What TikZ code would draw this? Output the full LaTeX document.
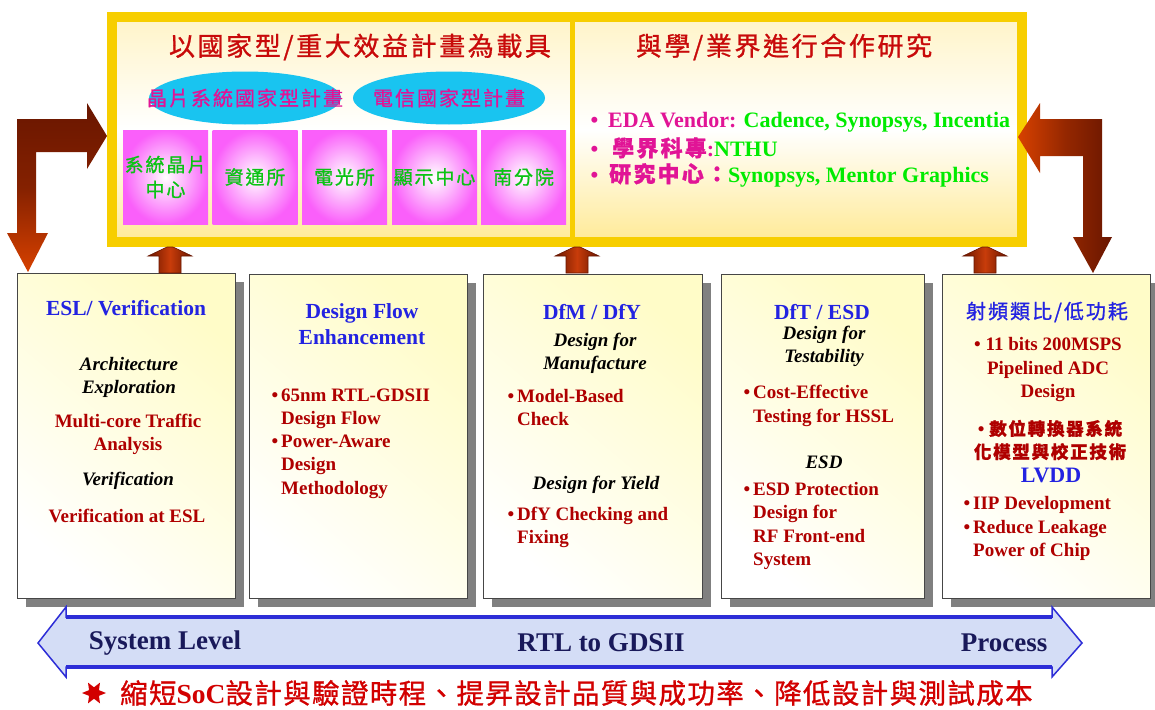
\documentclass[tikz,border=0pt]{standalone}
\usepackage{fontspec}
\setmainfont{Liberation Serif}
\newfontfamily\cjk{Noto Sans CJK TC}[FakeBold=1]
\newfontfamily\cjkcap{Noto Sans CJK TC}[FakeBold=1, LetterSpace=5]
\newfontfamily\cjksp{Noto Sans CJK TC}[FakeBold=1, LetterSpace=10]
\usetikzlibrary{shapes.geometric}
\definecolor{frameyel}{RGB}{247,206,0}
\definecolor{innertop}{RGB}{255,244,200}
\definecolor{innerbot}{RGB}{255,234,150}
\definecolor{ellcyan}{RGB}{25,196,240}
\definecolor{magtext}{RGB}{225,20,150}
\definecolor{pinkedge}{RGB}{250,95,250}
\definecolor{cjkgreen}{RGB}{10,195,20}
\definecolor{brightgreen}{RGB}{0,235,0}
\definecolor{titlered}{RGB}{200,10,10}
\definecolor{boxred}{RGB}{175,0,0}
\definecolor{titleblue}{RGB}{35,35,225}
\definecolor{arrdark}{RGB}{105,22,0}
\definecolor{arrlight}{RGB}{215,65,0}
\definecolor{arrmid}{RGB}{200,60,10}
\definecolor{boxyel}{RGB}{255,252,200}
\definecolor{boxedge}{RGB}{70,70,70}
\definecolor{shadowgrey}{RGB}{128,128,128}
\definecolor{barblue}{RGB}{45,45,215}
\definecolor{barfill}{RGB}{212,221,246}
\definecolor{navy}{RGB}{25,25,90}
\definecolor{captionred}{RGB}{210,0,0}
\newcommand{\bul}{\makebox[0pt][r]{\textbullet\hspace{3pt}}}
\begin{document}
\begin{tikzpicture}[x=1pt,y=-1pt,
  lbox/.style={draw=boxedge, line width=0.8pt, anchor=north west, inner sep=0pt,
    top color=boxyel, bottom color=white, shading angle=-40},
  pinkbox/.style={inner color=white, outer color=pinkedge, minimum width=85pt,
    minimum height=94pt, inner sep=0pt, text=cjkgreen, align=center,
    font=\cjksp\fontsize{19}{25}\selectfont},
  ell/.style={ellipse, fill=ellcyan, minimum width=192pt, minimum height=53pt, inner sep=0pt},
  btitle/.style={inner sep=0pt, text=titleblue, align=center, font=\bfseries\fontsize{21.5}{26}\selectfont},
  body/.style={inner sep=0pt, text=boxred, font=\bfseries\fontsize{19}{23.2}\selectfont},
  ital/.style={inner sep=0pt, text=black, align=center, font=\bfseries\itshape\fontsize{19}{23}\selectfont},
  rline/.style={inner sep=0pt, anchor=west, font=\bfseries\fontsize{22}{26}\selectfont},
  bartext/.style={inner sep=0pt, text=navy, font=\bfseries\fontsize{27}{30}\selectfont},
  uparrow/.style={draw=arrdark, line width=0.6pt, left color=arrdark, right color=arrdark, middle color=arrmid}
]
\useasboundingbox (0,0) rectangle (1155,709);
\fill[white] (0,0) rectangle (1155,709);

% ---------- top frame ----------
\path[top color=innertop, bottom color=innerbot, middle color=white] (112,17) rectangle (1022,242);
\draw[frameyel, line width=10pt] (112,17) rectangle (1022,242);
\draw[frameyel, line width=5pt] (572,20) -- (572,240);

\node[inner sep=0pt, text=titlered, font=\cjksp\fontsize{26}{30}\selectfont] (ltitle) at (360,47) {以國家型/重大效益計畫為載具};
\node[inner sep=0pt, text=titlered, font=\cjksp\fontsize{26}{30}\selectfont] (rtitle) at (784,47) {與學/業界進行合作研究};

\node[ell] (e1) at (245,98) {};
\node[ell] (e2) at (449,98) {};
\node[inner sep=0pt, text=magtext, font=\cjksp\fontsize{20}{25}\selectfont] (e1t) at (e1.center) {晶片系統國家型計畫};
\node[inner sep=0pt, text=magtext, font=\cjksp\fontsize{20}{25}\selectfont] (e2t) at (e2.center) {電信國家型計畫};

\node[pinkbox] (p1) at (165.5,177) {系統晶片\\中心};
\node[pinkbox] (p2) at (255,177) {資通所};
\node[pinkbox] (p3) at (344.5,177) {電光所};
\node[pinkbox] (p4) at (434.5,177) {顯示中心};
\node[pinkbox] (p5) at (523.5,177) {南分院};

\node[rline] (r1) at (608,122) {\textcolor{magtext}{\makebox[0pt][r]{\textbullet\hspace{10pt}}EDA Vendor:} \textcolor{brightgreen}{Cadence, Synopsys, Incentia}};
\node[rline] (r2) at (612,148) {\textcolor{magtext}{\makebox[0pt][r]{\textbullet\hspace{14pt}}{\cjksp 學界科專}:}\textcolor{brightgreen}{NTHU}};
\node[rline] (r3) at (609,175) {\textcolor{magtext}{\makebox[0pt][r]{\textbullet\hspace{11pt}}{\cjksp 研究中心：}}\textcolor{brightgreen}{Synopsys, Mentor Graphics}};

% ---------- bent arrows ----------
\path[top color=arrdark, bottom color=arrlight, middle color=arrdark!75!arrlight]
  (17,119) -- (87,119) -- (87,103) -- (107,136) -- (87,169) -- (87,152) -- (36,152)
  -- (36,233) -- (48,233) -- (28,272) -- (7,233) -- (17,233) -- cycle;
\path[left color=arrlight, right color=arrdark, middle color=arrdark!60!arrlight]
  (1102,119) -- (1040,119) -- (1040,103) -- (1018,137) -- (1040,173) -- (1040,156) -- (1083,156)
  -- (1083,237) -- (1073,237) -- (1093,273) -- (1112,237) -- (1102,237) -- cycle;

% ---------- lower boxes ----------
\fill[shadowgrey] (26,282) rectangle (244,607);
\fill[shadowgrey] (258,283) rectangle (476,607);
\fill[shadowgrey] (492,283) rectangle (711,607);
\fill[shadowgrey] (730,283) rectangle (933,607);
\fill[shadowgrey] (951,283) rectangle (1159,607);
\node[lbox, minimum width=218pt, minimum height=325pt] (b1) at (17,273) {};
\node[lbox, minimum width=218pt, minimum height=324pt] (b2) at (249,274) {};
\node[lbox, minimum width=219pt, minimum height=324pt] (b3) at (483,274) {};
\node[lbox, minimum width=203pt, minimum height=324pt] (b4) at (721,274) {};
\node[lbox, minimum width=208pt, minimum height=324pt] (b5) at (942,274) {};

% ---------- small up arrows ----------
\foreach \x in {170,577,985}{
  \path[uparrow] (\x-22,256) -- (\x-3,247) -- (\x+3,247) -- (\x+22,256) -- (\x+11,256) -- (\x+11,273)
    -- (\x-11,273) -- (\x-11,256) -- cycle;
}

% box 1
\node[btitle] (t1) at (126,308) {ESL/ Verification};
\node[ital] (a1) at (129,377.5) {Architecture\\Exploration};
\node[body, align=center] (c1) at (128,434.5) {Multi-core Traffic\\Analysis};
\node[ital] (v1) at (128,481) {Verification};
\node[body] (d1) at (127,516) {Verification at ESL};

% box 2
\node[btitle] (t2) at (362,324) {Design Flow\\Enhancement};
\node[body, anchor=west, align=left] (c2) at (281,443.5) {\bul 65nm RTL-GDSII\\Design Flow\\\bul Power-Aware\\Design\\Methodology};

% box 3
\node[btitle] (t3) at (592,312) {DfM / DfY};
\node[ital] (a3) at (595,353.5) {Design for\\Manufacture};
\node[body, anchor=west, align=left] (c3) at (517,407.5) {\bul Model-Based\\Check};
\node[ital] (y3) at (596,485) {Design for Yield};
\node[body, anchor=west, align=left] (d3) at (517,527.5) {\bul DfY Checking and\\Fixing};

% box 4
\node[btitle] (t4) at (822,312) {DfT / ESD};
\node[ital] (a4) at (824,346.5) {Design for\\Testability};
\node[body, anchor=west, align=left] (c4) at (753,406) {\bul Cost-Effective\\Testing for HSSL};
\node[ital] (e4) at (824,462) {ESD};
\node[body, anchor=west, align=left] (d4) at (753,526) {\bul ESD Protection\\Design for\\RF Front-end\\System};

% box 5
\node[btitle, font=\cjksp\fontsize{20}{26}\selectfont] (t5) at (1047,312) {射頻類比/低功耗};
\node[body, align=center] (c5) at (1048,369.5) {\textbullet\ 11 bits 200MSPS\\Pipelined ADC\\Design};
\node[body, align=center] (d5) at (1050,440) {\textbullet\ {\cjksp\fontsize{17.5}{23.5}\selectfont 數位轉換器系統}\\{\cjksp\fontsize{17.5}{23.5}\selectfont 化模型與校正技術}};
\node[btitle, font=\bfseries\fontsize{22}{26}\selectfont] (l5) at (1051,475) {LVDD};
\node[body, anchor=west, align=left] (f5) at (973,528.5) {\bul IIP Development\\\bul Reduce Leakage\\Power of Chip};

% ---------- bottom double arrow ----------
\path[fill=barfill, draw=barblue, line width=1.5pt, line join=miter]
  (38,643) -- (66,607) -- (66,617) -- (1052,617) -- (1052,607) -- (1082,643)
  -- (1052,677) -- (1052,667) -- (66,667) -- (66,677) -- cycle;
\draw[barblue, line width=4pt] (66,617) -- (1052,617);
\draw[barblue, line width=4pt] (66,667) -- (1052,667);
\node[bartext] (s1) at (165,643) {System Level};
\node[bartext] (s2) at (601,643) {RTL to GDSII};
\node[bartext] (s3) at (1004,643) {Process};

% ---------- caption ----------
\node[star, star points=6, star point ratio=2.1, fill=captionred, inner sep=0pt,
  minimum size=24pt, rotate=90] (star) at (94,693) {};
\node[inner sep=0pt, text=captionred, anchor=west, font=\cjkcap\fontsize{27.5}{31}\selectfont] (cap) at (120,693)
  {縮短{\rmfamily\bfseries SoC}設計與驗證時程、提昇設計品質與成功率、降低設計與測試成本};
\end{tikzpicture}
\end{document}
